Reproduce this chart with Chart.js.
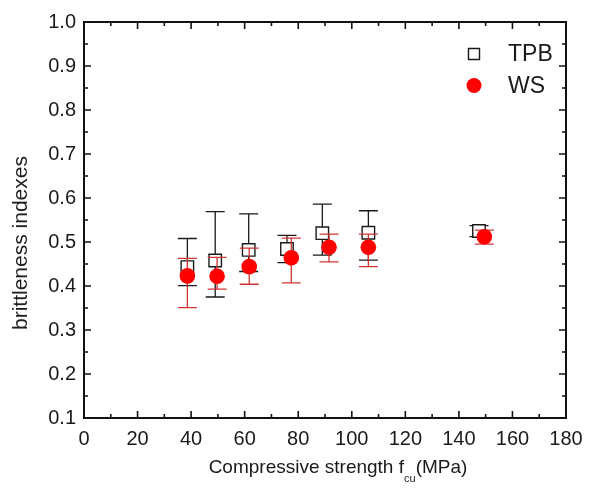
<!DOCTYPE html>
<html>
<head>
<meta charset="utf-8">
<script src="https://cdn.jsdelivr.net/npm/chart.js@4"></script>
<style>
  html, body { margin: 0; padding: 0; background: #fff; }
  #wrap { position: relative; width: 596px; height: 488px; }
  .ttl { position: absolute; font-family: 'Liberation Sans', Arial, sans-serif; color: #1a1a1a; white-space: nowrap; }
  #xTitle { left: 338px; top: 470px; transform: translate(-50%, -50%); font-size: 19px; }
  #xTitle sub { font-size: 11px; vertical-align: -9px; }
  #yTitle { left: 20px; top: 243px; transform: translate(-50%, -50%) rotate(-90deg); font-size: 21px; }
</style>
</head>
<body>
<div id="wrap">
  <canvas id="chartBrittle" width="596" height="488"></canvas>
  <div class="ttl" id="xTitle">Compressive strength f<sub>cu</sub>(MPa)</div>
  <div class="ttl" id="yTitle">brittleness indexes</div>
</div>
<script>
// TPB: three point bending, WS: wedge splitting
const tpbX = [38.6, 49.0, 61.5, 75.8, 89.0, 106.2, 147.5];
const tpbY = [0.443, 0.458, 0.482, 0.484, 0.520, 0.521, 0.525];
const tpbHi = [0.508, 0.569, 0.564, 0.515, 0.586, 0.571, 0.537];
const tpbLo = [0.401, 0.375, 0.433, 0.453, 0.470, 0.459, 0.512];

const wsX = [38.6, 49.7, 61.7, 77.4, 91.5, 106.2, 149.5];
const wsY = [0.423, 0.422, 0.444, 0.464, 0.488, 0.488, 0.512];
const wsHi = [0.463, 0.465, 0.486, 0.509, 0.518, 0.518, 0.527];
const wsLo = [0.351, 0.393, 0.404, 0.407, 0.455, 0.444, 0.495];

const seriesLabels = ['TPB', 'WS'];
const xTicks = [0, 20, 40, 60, 80, 100, 120, 140, 160, 180];
const yTicks = [0.1, 0.2, 0.3, 0.4, 0.5, 0.6, 0.7, 0.8, 0.9, 1.0];

const FONT = "'Liberation Sans', Arial, sans-serif";
const errBars = [
  { hi: tpbHi, lo: tpbLo, color: '#1a1a1a' },
  { hi: wsHi, lo: wsLo, color: '#d23434' },
];

const errorBarPlugin = {
  id: 'errorBars',
  beforeDatasetDraw(chart, args) {
    const bars = errBars[args.index];
    if (!bars) return;
    const { ctx, scales } = chart;
    const data = chart.data.datasets[args.index].data;
    ctx.save();
    ctx.strokeStyle = bars.color;
    ctx.lineWidth = 1.3;
    data.forEach((pt, i) => {
      const x = scales.x.getPixelForValue(pt.x);
      const yHi = scales.y.getPixelForValue(bars.hi[i]);
      const yLo = scales.y.getPixelForValue(bars.lo[i]);
      ctx.beginPath();
      ctx.moveTo(x, yHi); ctx.lineTo(x, yLo);
      ctx.moveTo(x - 9.5, yHi); ctx.lineTo(x + 9.5, yHi);
      ctx.moveTo(x - 9.5, yLo); ctx.lineTo(x + 9.5, yLo);
      ctx.stroke();
    });
    ctx.restore();
  },
};

const framePlugin = {
  id: 'frame',
  afterDraw(chart) {
    const { ctx, chartArea: a, scales } = chart;
    ctx.save();
    ctx.strokeStyle = '#111';
    ctx.lineWidth = 2;
    ctx.strokeRect(a.left, a.top, a.right - a.left, a.bottom - a.top);
    ctx.lineWidth = 1.6;
    const major = 7, minor = 4;
    const xt = scales.x.ticks.map((t) => t.value);
    const yt = scales.y.ticks.map((t) => t.value);
    ctx.beginPath();
    xt.forEach((v, i) => {
      const x = scales.x.getPixelForValue(v);
      ctx.moveTo(x, a.bottom); ctx.lineTo(x, a.bottom - major);
      ctx.moveTo(x, a.top); ctx.lineTo(x, a.top + major);
      if (i < xt.length - 1) {
        const xm = scales.x.getPixelForValue((v + xt[i + 1]) / 2);
        ctx.moveTo(xm, a.bottom); ctx.lineTo(xm, a.bottom - minor);
        ctx.moveTo(xm, a.top); ctx.lineTo(xm, a.top + minor);
      }
    });
    yt.forEach((v, i) => {
      const y = scales.y.getPixelForValue(v);
      ctx.moveTo(a.left, y); ctx.lineTo(a.left + major, y);
      ctx.moveTo(a.right, y); ctx.lineTo(a.right - major, y);
      if (i < yt.length - 1) {
        const ym = scales.y.getPixelForValue((v + yt[i + 1]) / 2);
        ctx.moveTo(a.left, ym); ctx.lineTo(a.left + minor, ym);
        ctx.moveTo(a.right, ym); ctx.lineTo(a.right - minor, ym);
      }
    });
    ctx.stroke();

    // legend inside the plot, top right
    chart.data.datasets.forEach((ds, i) => {
      const cy = a.top + 32 + i * 31.5;
      const cx = a.right - 92;
      ctx.fillStyle = ds.pointBackgroundColor;
      ctx.strokeStyle = ds.pointBorderColor;
      ctx.lineWidth = ds.pointBorderWidth;
      Chart.helpers.drawPoint(ctx, {
        pointStyle: ds.pointStyle,
        radius: ds.legendRadius,
        borderWidth: ds.pointBorderWidth,
      }, cx, cy);
      ctx.fillStyle = '#1a1a1a';
      ctx.font = '23px ' + FONT;
      ctx.textBaseline = 'middle';
      ctx.textAlign = 'left';
      ctx.fillText(seriesLabels[i], cx + 34, cy + 1);
    });
    ctx.restore();
  },
};

new Chart(document.getElementById('chartBrittle'), {
  type: 'scatter',
  data: {
    datasets: [
      {
        label: seriesLabels[0],
        data: tpbX.map((x, i) => ({ x, y: tpbY[i] })),
        pointStyle: 'rect',
        pointRadius: 8.8,
        legendRadius: 7.8,
        pointBackgroundColor: '#ffffff',
        pointBorderColor: '#1a1a1a',
        pointBorderWidth: 1.4,
        order: 2,
      },
      {
        label: seriesLabels[1],
        data: wsX.map((x, i) => ({ x, y: wsY[i] })),
        pointStyle: 'circle',
        pointRadius: 7.8,
        legendRadius: 7.5,
        pointBackgroundColor: '#ff0000',
        pointBorderColor: '#ff0000',
        pointBorderWidth: 0,
        order: 1,
      },
    ],
  },
  options: {
    responsive: false,
    animation: false,
    devicePixelRatio: 1,
    layout: { padding: { left: 0, top: 22, right: 30, bottom: 0 } },
    plugins: { legend: { display: false }, tooltip: { enabled: false } },
    scales: {
      x: {
        type: 'linear',
        min: 0,
        max: 180,
        afterFit: (scale) => { scale.height = 70; },
        afterBuildTicks: (scale) => { scale.ticks = xTicks.map((value) => ({ value })); },
        grid: { display: false, drawTicks: false },
        border: { display: false },
        ticks: { color: '#1a1a1a', font: { family: FONT, size: 20 }, padding: 9, maxRotation: 0 },
      },
      y: {
        type: 'linear',
        min: 0.1,
        max: 1.0,
        afterFit: (scale) => { scale.width = 84; },
        afterBuildTicks: (scale) => { scale.ticks = yTicks.map((value) => ({ value })); },
        grid: { display: false, drawTicks: false },
        border: { display: false },
        ticks: {
          color: '#1a1a1a',
          font: { family: FONT, size: 20 },
          padding: 8,
          callback: (value) => Number(value).toFixed(1),
        },
      },
    },
  },
  plugins: [errorBarPlugin, framePlugin],
});
</script>
</body>
</html>
